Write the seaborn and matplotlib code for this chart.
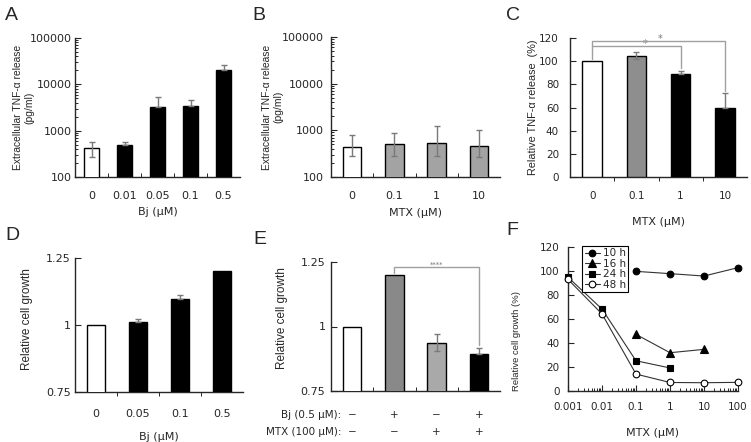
import numpy as np
import pandas as pd
import matplotlib
matplotlib.use("Agg")
import matplotlib.pyplot as plt
from matplotlib import ticker
import seaborn as sns

# ---------------- data ----------------
# A: extracellular TNF-a release vs Bj dose (pg/ml)
a_dose = ["0", "0.01", "0.05", "0.1", "0.5"]
a_tnf = [431, 493, 3230, 3390, 19950]
a_err_lo = [156, 0, 0, 0, 0]
a_err_hi = [149, 80, 2080, 1250, 6250]
a_colors = ["white", "black", "black", "black", "black"]

# B: extracellular TNF-a release vs MTX dose (pg/ml)
b_dose = ["0", "0.1", "1", "10"]
b_tnf = [447, 519, 536, 454]
b_err_lo = [170, 233, 259, 185]
b_err_hi = [362, 360, 683, 581]
b_colors = ["white", "#a3a3a3", "#a3a3a3", "#a3a3a3"]

# C: relative TNF-a release (%)
c_dose = ["0", "0.1", "1", "10"]
c_rel = [100, 104.8, 88.7, 59.8]
c_err_lo = [0, 3, 0, 0]
c_err_hi = [0, 3, 3, 13]
c_colors = ["white", "#8e8e8e", "black", "black"]

# D: relative cell growth vs Bj
d_dose = ["0", "0.05", "0.1", "0.5"]
d_growth = [1.0, 1.0125, 1.096, 1.2]
d_err = [0, 0.01, 0.016, 0]
d_colors = ["white", "black", "black", "black"]

# E: relative cell growth, Bj / MTX combinations
e_bj = ["\u2212", "+", "\u2212", "+"]
e_mtx = ["\u2212", "\u2212", "+", "+"]
e_growth = [1.0, 1.2, 0.937, 0.895]
e_err_lo = [0, 0, 0.033, 0]
e_err_hi = [0, 0, 0.033, 0.023]
e_colors = ["white", "#898989", "#a9a9a9", "black"]

# F: relative cell growth (%) vs MTX over time
f_mtx = [0.001, 0.01, 0.1, 1, 10, 100]
f_10h = [np.nan, np.nan, 99.7, 97.8, 95.8, 102.8]
f_16h = [np.nan, np.nan, 47.2, 31.9, 34.7, np.nan]
f_24h = [94.8, 68.3, 25.2, 19.2, np.nan, np.nan]
f_48h = [93.0, 64.2, 14.1, 7.1, 6.9, 7.2]

W, H = 751, 442
sns.set_style("ticks")
plt.rcParams["font.family"] = ["DejaVu Sans"]
plt.rcParams["axes.linewidth"] = 1.0
plt.rcParams["xtick.major.width"] = 0.8
plt.rcParams["ytick.major.width"] = 0.8
plt.rcParams["xtick.minor.width"] = 0.7
plt.rcParams["ytick.minor.width"] = 0.7

fig = plt.figure(figsize=(W / 100, H / 100), dpi=100)


def px_axes(left, top, right, bottom):
    return fig.add_axes([left / W, 1 - bottom / H, (right - left) / W, (bottom - top) / H])


def bar_panel(ax, cats, vals, colors, lo, hi, xtick_dir="in"):
    df = pd.DataFrame({"dose": cats, "val": vals})
    sns.barplot(data=df, x="dose", y="val", hue="dose", order=cats, hue_order=cats,
                palette=dict(zip(cats, colors)), saturation=1, width=0.44,
                edgecolor="black", linewidth=1, legend=False, ax=ax, zorder=3)
    x = np.arange(len(cats))
    lo = np.asarray(lo, dtype=float)
    hi = np.asarray(hi, dtype=float)
    v = np.asarray(vals, dtype=float)
    m = (lo > 0) | (hi > 0)
    ax.errorbar(x[m], v[m], yerr=[lo[m], hi[m]], fmt="none", ecolor="#7a7a7a",
                elinewidth=1, capsize=2.5, capthick=1, zorder=5)
    ax.set_xlim(-0.5, len(cats) - 0.5)
    ax.set_xticks(x)
    ax.set_xticks(x[:-1] + 0.5, minor=True)
    ax.tick_params(axis="x", which="major", length=0, labelsize=8, pad=10)
    ax.tick_params(axis="x", which="minor", direction=xtick_dir, length=3)
    ax.tick_params(axis="y", which="both", direction="in", labelsize=8)
    ax.tick_params(axis="y", which="major", length=4)
    ax.tick_params(axis="y", which="minor", length=2)
    ax.set_xlabel("")
    ax.set_ylabel("")
    sns.despine(ax=ax)


def ylabel(ax, text, x, y=0.5, size=7.5):
    ax.set_ylabel(text, family="Liberation Sans", fontsize=size, va="center",
                  multialignment="center")
    ax.yaxis.set_label_coords(x, y)


def xlabel(ax, text, y, size=8):
    ax.set_xlabel(text, fontsize=size, va="center")
    ax.xaxis.set_label_coords(0.5, y)


log_fmt = ticker.FuncFormatter(lambda v, _: f"{v:g}")

# ---------------- A ----------------
axA = px_axes(75, 38, 240, 177)
bar_panel(axA, a_dose, a_tnf, a_colors, a_err_lo, a_err_hi, "in")
axA.set_yscale("log")
axA.set_ylim(100, 100000)
axA.yaxis.set_major_locator(ticker.LogLocator(base=10))
axA.yaxis.set_minor_locator(ticker.LogLocator(base=10, subs=np.arange(2, 10)))
axA.yaxis.set_major_formatter(log_fmt)
axA.yaxis.set_minor_formatter(ticker.NullFormatter())
axA.tick_params(axis="y", which="both", direction="in", pad=2)
axA.tick_params(axis="y", which="major", length=4)
axA.tick_params(axis="y", which="minor", length=2)
ylabel(axA, "Extracellular TNF-\u03b1 release\n(pg/ml)", -0.31, size=7.4)
xlabel(axA, "Bj (\u03bcM)", -0.25)

# ---------------- B ----------------
axB = px_axes(331, 37, 500, 177)
bar_panel(axB, b_dose, b_tnf, b_colors, b_err_lo, b_err_hi, "in")
axB.set_yscale("log")
axB.set_ylim(100, 100000)
axB.yaxis.set_major_locator(ticker.LogLocator(base=10))
axB.yaxis.set_minor_locator(ticker.LogLocator(base=10, subs=np.arange(2, 10)))
axB.yaxis.set_major_formatter(log_fmt)
axB.yaxis.set_minor_formatter(ticker.NullFormatter())
axB.tick_params(axis="y", which="both", direction="in", pad=5)
axB.tick_params(axis="y", which="major", length=4)
axB.tick_params(axis="y", which="minor", length=2)
ylabel(axB, "Extracellular TNF-\u03b1 release\n(pg/ml)", -0.345, size=7.4)
xlabel(axB, "MTX (\u03bcM)", -0.257)

# ---------------- C ----------------
axC = px_axes(570, 38, 747, 177)
bar_panel(axC, c_dose, c_rel, c_colors, c_err_lo, c_err_hi, "out")
axC.set_ylim(0, 120)
axC.set_yticks(np.arange(0, 121, 20))
axC.tick_params(axis="y", labelsize=7.5, pad=8)
axC.tick_params(axis="x", labelsize=7.5)
ylabel(axC, "Relative TNF-\u03b1 release  (%)", -0.21, size=7.8)
xlabel(axC, "MTX (\u03bcM)", -0.325)
br = "#a0a0a0"
axC.plot([0, 0, 3, 3], [102, 117.4, 117.4, 74.5], color=br, lw=1, zorder=6, clip_on=False)
axC.plot([0, 2, 2], [113.4, 113.4, 94], color=br, lw=1, zorder=6)
axC.text(1.2, 114.6, "*", color="#777777", fontsize=7, ha="center", va="center")
axC.text(1.54, 118.8, "*", color="#777777", fontsize=7, ha="center", va="center")

# ---------------- D ----------------
axD = px_axes(75, 258, 243, 392)
bar_panel(axD, d_dose, d_growth, d_colors, [0] * len(d_err), d_err, "out")
axD.set_ylim(0.75, 1.25)
axD.set_yticks([0.75, 1, 1.25])
axD.yaxis.set_major_formatter(ticker.FuncFormatter(lambda v, _: f"{v:g}"))
axD.tick_params(axis="y", pad=3)
axD.tick_params(axis="x", pad=12)
ylabel(axD, "Relative cell growth", -0.283, 0.545, size=8.5)
xlabel(axD, "Bj (\u03bcM)", -0.336)

# ---------------- E ----------------
axE = px_axes(331, 262, 500, 391)
bar_panel(axE, ["c1", "c2", "c3", "c4"], e_growth, e_colors, e_err_lo, e_err_hi, "in")
axE.set_ylim(0.75, 1.25)
axE.set_yticks([0.75, 1, 1.25])
axE.yaxis.set_major_formatter(ticker.FuncFormatter(lambda v, _: f"{v:g}"))
axE.tick_params(axis="y", pad=4)
axE.set_xticklabels([])
ylabel(axE, "Relative cell growth", -0.29, 0.562, size=8.5)
trE = axE.get_xaxis_transform()
for i, (s1, s2) in enumerate(zip(e_bj, e_mtx)):
    axE.text(i, -0.186, s1, transform=trE, ha="center", va="center", fontsize=7.5)
    axE.text(i, -0.318, s2, transform=trE, ha="center", va="center", fontsize=7.5)
axE.text(0.06, -0.186, "Bj (0.5 \u03bcM):", transform=axE.transAxes, ha="right",
         va="center", fontsize=7.5)
axE.text(0.06, -0.318, "MTX (100 \u03bcM):", transform=axE.transAxes, ha="right",
         va="center", fontsize=7.5)
axE.plot([1, 1, 3, 3], [1.206, 1.232, 1.232, 0.928], color=br, lw=1, zorder=6)
axE.text(2, 1.241, "****", color="#777777", fontsize=5, ha="center", va="center")

# ---------------- F ----------------
axF = px_axes(568, 247, 738, 391)
series = [("10 h", f_10h, "o", "black"), ("16 h", f_16h, "^", "black"),
          ("24 h", f_24h, "s", "black"), ("48 h", f_48h, "o", "white")]
x_all = np.array(f_mtx, dtype=float)
for name, ys, mk, face in series:
    ys = np.array(ys, dtype=float)
    ok = ~np.isnan(ys)
    sns.lineplot(x=x_all[ok], y=ys[ok], ax=axF, color="#333333", lw=0.8, marker=mk,
                 markersize=4.8 if mk != "^" else 5.2, markerfacecolor=face,
                 markeredgecolor="black", markeredgewidth=0.8, label=name,
                 clip_on=False, zorder=5)
axF.set_xscale("log")
axF.set_xlim(0.001, 100)
axF.set_ylim(0, 120)
axF.set_yticks(np.arange(0, 121, 20))
axF.xaxis.set_major_locator(ticker.LogLocator(base=10))
axF.xaxis.set_minor_locator(ticker.LogLocator(base=10, subs=np.arange(2, 10)))
axF.xaxis.set_major_formatter(log_fmt)
axF.xaxis.set_minor_formatter(ticker.NullFormatter())
axF.tick_params(axis="both", which="both", direction="in", labelsize=7.5)
axF.tick_params(axis="both", which="major", length=4)
axF.tick_params(axis="both", which="minor", length=2)
axF.tick_params(axis="x", pad=8)
axF.tick_params(axis="y", pad=6)
sns.despine(ax=axF)
ylabel(axF, "Relative cell growth (%)", -0.302, 0.35, size=6.8)
xlabel(axF, "MTX (\u03bcM)", -0.292)
axF.legend(loc="upper left", bbox_to_anchor=(0.085, 1.01), borderaxespad=0,
           fontsize=7.5, handlelength=1.4, handletextpad=0.3, labelspacing=0.05,
           borderpad=0.25, frameon=True, fancybox=False, edgecolor="black",
           framealpha=1)
axF.get_legend().get_frame().set_linewidth(0.8)

# ---------------- panel letters ----------------
letters = [("A", 5, 7), ("B", 252, 7), ("C", 506, 7),
           ("D", 5, 227), ("E", 253, 231), ("F", 506, 222)]
for lab, lx, ly in letters:
    fig.text(lx / W, 1 - ly / H, lab, fontsize=14, family="Liberation Sans",
             ha="left", va="top")

fig.savefig("out.png", dpi=100)
